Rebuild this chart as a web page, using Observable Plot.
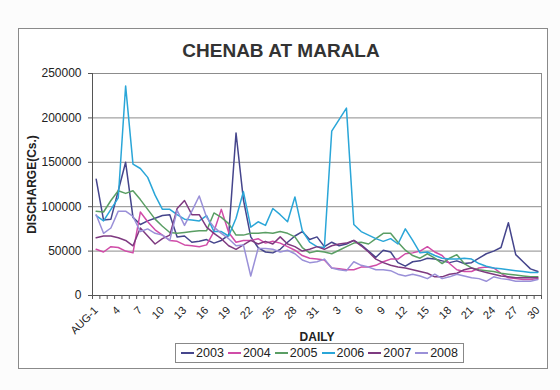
<!DOCTYPE html>
<html><head><meta charset="utf-8">
<script src="https://cdn.jsdelivr.net/npm/d3@7"></script>
<script src="https://cdn.jsdelivr.net/npm/@observablehq/plot@0.6"></script>
<style>
body{margin:0;background:#fff;font-family:"Liberation Sans",Arial,sans-serif;}
#page{position:relative;width:560px;height:390px;overflow:hidden;background:#fcfcfc;}
#box{position:absolute;left:18px;top:28px;width:528px;height:339px;border:1px solid #8a8a8a;background:#fff;}
#title{position:absolute;left:0;width:562px;top:40px;text-align:center;font-weight:bold;font-size:19px;color:#333;}
#chart{position:absolute;left:0;top:40px;}
#legend{position:absolute;left:175px;top:343px;width:287px;height:18px;border:1px solid #888;background:#fff;display:flex;align-items:center;justify-content:center;font-size:12.5px;color:#222;}
.item{display:flex;align-items:center;margin:0 2px;}
.sw{display:inline-block;width:13px;height:2px;margin-right:2px;}
</style>
</head><body>
<div id="page">
  <div id="box"></div>
  <div id="title">CHENAB AT MARALA</div>
  <div id="chart"></div>
  <div id="legend"></div>
</div>
<script>
const years = ["2003","2004","2005","2006","2007","2008"];
const colors = ["#45458c","#d04ca8","#5a9e64","#2aa6d8","#7e3a80","#9a90d8"];
const xLabels = ["AUG-1","4","7","10","13","16","19","22","25","28","31","3","6","9","12","15","18","21","24","27","30"];
const yTicks = [0,50000,100000,150000,200000,250000];

const d2003 = [131000,85000,86000,118000,150000,88000,80000,84000,87000,90000,91000,66000,67000,60000,61000,63000,59000,62000,68000,183000,108000,66000,54000,49000,48000,52000,60000,67000,72000,63000,66000,55000,60000,56000,58000,62000,57000,50000,43000,51000,49000,37000,33000,38000,39000,42000,41000,39000,37000,39000,36000,37000,42000,47000,50000,54000,82000,46000,38000,30000,27000];
const d2004 = [52000,49000,55000,54000,50000,48000,94000,83000,74000,68000,62000,61000,57000,56000,55000,57000,72000,97000,71000,60000,62000,62000,64000,59000,61000,59000,55000,51000,45000,42000,41000,40000,31000,30000,29000,29000,32000,32000,34000,38000,41000,41000,47000,48000,50000,55000,49000,45000,36000,29000,27000,27000,31000,32000,31000,25000,20000,19000,18000,18000,19000];
const d2005 = [95000,94000,107000,118000,115000,118000,108000,97000,86000,78000,71000,70000,71000,72000,73000,73000,93000,88000,81000,68000,68000,70000,70000,71000,70000,72000,70000,66000,54000,48000,50000,49000,47000,51000,55000,59000,60000,58000,64000,70000,70000,60000,51000,45000,42000,47000,42000,36000,42000,46000,36000,31000,29000,28000,27000,25000,24000,23000,22000,21000,21000];
const d2006 = [90000,84000,97000,110000,236000,148000,143000,133000,113000,97000,97000,91000,86000,85000,84000,90000,72000,72000,67000,87000,117000,77000,83000,79000,98000,91000,83000,111000,73000,60000,55000,54000,185000,198000,211000,80000,72000,68000,64000,61000,64000,58000,75000,62000,48000,49000,45000,42000,41000,41000,42000,41000,36000,33000,31000,30000,29000,28000,27000,26000,26000];
const d2007 = [65000,67000,67000,65000,62000,56000,76000,67000,58000,64000,68000,98000,107000,91000,91000,77000,70000,64000,56000,52000,57000,62000,58000,61000,58000,66000,58000,55000,50000,52000,55000,52000,56000,58000,59000,62000,56000,49000,41000,37000,34000,32000,31000,29000,27000,25000,21000,21000,24000,25000,29000,31000,28000,26000,24000,22000,21000,20000,20000,20000,20000];
const d2008 = [91000,70000,76000,95000,95000,89000,72000,75000,70000,68000,62000,96000,79000,95000,112000,88000,77000,70000,64000,56000,57000,22000,53000,53000,52000,49000,51000,47000,40000,37000,38000,41000,31000,29000,28000,38000,34000,32000,29000,29000,28000,24000,22000,24000,22000,19000,24000,19000,21000,24000,22000,20000,19000,16000,21000,19000,18000,16000,16000,16000,18000];

const series = [d2003,d2004,d2005,d2006,d2007,d2008];
const rows = series.flatMap((vals, k) => vals.map((v, i) => ({day: i, value: v, year: years[k]})));
const labelIdx = xLabels.map((_, j) => j * 3);
const font = "'Liberation Sans', Arial, sans-serif";

const chart = Plot.plot({
  width: 560, height: 330,
  marginTop: 33, marginBottom: 75, marginLeft: 92, marginRight: 19,
  style: {fontFamily: font, fontSize: "12px", color: "#222", background: "transparent", overflow: "visible"},
  x: {domain: [-0.5, 60.5]},
  y: {domain: [0, 250000]},
  color: {domain: years, range: colors},
  marks: [
    Plot.gridY(yTicks, {stroke: "#8c8c8c", strokeOpacity: 1}),
    Plot.frame({stroke: "#8c8c8c"}),
    Plot.axisY(yTicks, {tickFormat: d => String(d), tickSize: 4, tickPadding: 7, label: null, fontSize: 12, stroke: "#555"}),
    Plot.ruleX([-0.5], {stroke: "#555"}),
    Plot.ruleY([0], {stroke: "#555"}),
    Plot.axisX(d3.range(-0.5, 61, 1), {tickFormat: () => "", tickSize: 4, label: null, stroke: "#555"}),
    Plot.axisX(labelIdx, {tickFormat: d => xLabels[d / 3], tickSize: 0, tickRotate: -45, tickPadding: 13, label: null, fontSize: 11}),
    Plot.line(rows, {x: "day", y: "value", z: "year", stroke: "year", strokeWidth: 1.5}),
    Plot.text(["DISCHARGE(Cs.)"], {text: d => d, frameAnchor: "left", dx: -60, rotate: -90, textAnchor: "middle", fontWeight: "bold", fontSize: 12, fill: "#222"}),
    Plot.text(["DAILY"], {text: d => d, frameAnchor: "bottom", dy: 45, fontWeight: "bold", fontSize: 12, fill: "#222"})
  ]
});
document.getElementById("chart").appendChild(chart);

const legend = document.getElementById("legend");
years.forEach((y, k) => {
  const it = document.createElement("span");
  it.className = "item";
  it.innerHTML = `<span class="sw" style="background:${colors[k]}"></span>${y}`;
  legend.appendChild(it);
});
</script>
</body></html>
